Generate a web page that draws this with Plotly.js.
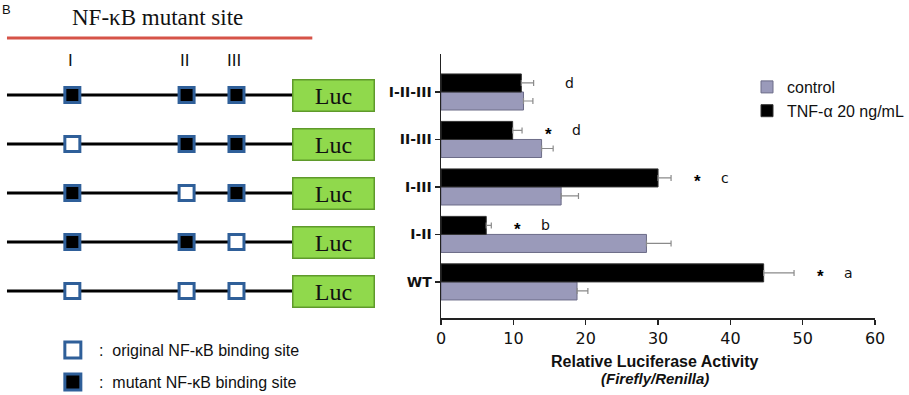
<!DOCTYPE html>
<html>
<head>
<meta charset="utf-8">
<script src="https://cdn.plot.ly/plotly-3.0.1.min.js"></script>
<style>html,body{margin:0;padding:0;background:#fff;}#chart{width:909px;height:395px;}</style>
</head>
<body>
<div id="chart"></div>
<script>
// ---------- data ----------
// constructs, listed bottom-to-top as they appear in the figure
var categories = ['WT', 'I-II', 'I-III', 'II-III', 'I-II-III'];
var controlValues = [18.8, 28.4, 16.6, 13.9, 11.4];
var controlErrors = [1.5, 3.4, 2.4, 1.6, 1.3];
var tnfValues = [44.6, 6.25, 30.0, 9.9, 11.1];
var tnfErrors = [4.2, 0.7, 1.8, 1.3, 1.7];
var significantStar = [true, true, true, true, false];
var groupLetters = ['a', 'b', 'c', 'd', 'd'];
var xTickValues = [0, 10, 20, 30, 40, 50, 60];
// NF-kB binding sites I, II, III ; 1 = mutant, 0 = original
var siteNames = ['I', 'II', 'III'];
var siteMutant = [
  [0, 0, 0],   // WT
  [1, 1, 0],   // I-II
  [1, 0, 1],   // I-III
  [0, 1, 1],   // II-III
  [1, 1, 1]    // I-II-III
];
var seriesNames = ['control', 'TNF-\u03b1 20 ng/mL'];
var xTitleLines = ['Relative Luciferase Activity', '(Firefly/Renilla)'];

// ---------- diagram geometry (layout, not data) ----------
var W = 909, H = 395;
var sitePos = [72.5, 187, 237];   // x2 units = px
var lineStart = 7, lineEnd = 293, lucCenter = 334;
function py(p) { return 1 - p / H; }
function px(p) { return p / W; }

// ---------- traces ----------
var traces = [];
traces.push({
  type: 'bar', orientation: 'h', name: seriesNames[0],
  y: categories, x: controlValues,
  marker: { color: '#9a9aba', line: { color: '#6c6c88', width: 1 } },
  error_x: { type: 'data', symmetric: false, array: controlErrors,
             arrayminus: controlErrors.map(function () { return 0; }),
             color: '#8a8a8a', thickness: 1.2, width: 3 },
  xaxis: 'x', yaxis: 'y', hoverinfo: 'skip'
});
traces.push({
  type: 'bar', orientation: 'h', name: seriesNames[1],
  y: categories, x: tnfValues,
  marker: { color: '#000000', line: { color: '#333', width: 1 } },
  error_x: { type: 'data', symmetric: false, array: tnfErrors,
             arrayminus: tnfErrors.map(function () { return 0; }),
             color: '#8a8a8a', thickness: 1.2, width: 3 },
  xaxis: 'x', yaxis: 'y', hoverinfo: 'skip'
});

// promoter lines
var lx = [], ly = [];
categories.forEach(function (c) { lx.push(lineStart, lineEnd, null); ly.push(c, c, null); });
traces.push({ type: 'scatter', mode: 'lines', x: lx, y: ly, xaxis: 'x2', yaxis: 'y2',
  line: { color: '#000', width: 3 }, showlegend: false, hoverinfo: 'skip' });

// binding sites
var sx = [], sy = [], sc = [];
categories.forEach(function (c, i) {
  siteMutant[i].forEach(function (m, j) { sx.push(sitePos[j]); sy.push(c); sc.push(m ? '#000000' : '#ffffff'); });
});
traces.push({ type: 'scatter', mode: 'markers', x: sx, y: sy, xaxis: 'x2', yaxis: 'y2',
  marker: { symbol: 'square', size: 15, color: sc, line: { color: '#2f5f99', width: 3 } },
  showlegend: false, hoverinfo: 'skip', cliponaxis: false });

// ---------- annotations ----------
var ann = [];
function txt(o) { o.showarrow = false; if (!o.xanchor) o.xanchor = 'center'; if (!o.yanchor) o.yanchor = 'middle'; ann.push(o); }
// significance marks
categories.forEach(function (c, i) {
  var tip = tnfValues[i] + tnfErrors[i];
  if (significantStar[i]) {
    txt({ xref: 'x', yref: 'y', x: tip + 3.6, y: c, yshift: 5, text: '<b>*</b>',
      font: { family: 'Liberation Sans, Arial', size: 17, color: '#000' } });
  }
  txt({ xref: 'x', yref: 'y', x: significantStar[i] ? tip + 7.5 : tip + 5, y: c, yshift: 9,
    text: groupLetters[i],
    font: { family: 'DejaVu Sans, Arial', size: 14, color: '#111' } });
  // Luc reporter boxes
  txt({ xref: 'x2', yref: 'y2', x: lucCenter, y: c, text: 'Luc',
    font: { family: 'Liberation Serif, Times New Roman', size: 24, color: '#111' },
    bgcolor: '#90d94c', bordercolor: '#5f9a2b', borderwidth: 1.5, borderpad: 2,
    width: 76, height: 26 });
});
// site numerals
siteNames.forEach(function (s, j) {
  txt({ xref: 'x2', yref: 'paper', x: sitePos[j] - 2, y: py(60), text: s,
    font: { family: 'Liberation Sans, Arial', size: 17, color: '#111' } });
});
txt({ xref: 'x2', yref: 'paper', x: 158, y: py(17), text: 'NF-\u03baB mutant site',
  font: { family: 'Liberation Serif, Times New Roman', size: 23, color: '#111' } });
txt({ xref: 'paper', yref: 'paper', x: 0, xanchor: 'left', y: 1, yanchor: 'top', text: 'B',
  font: { family: 'Liberation Sans, Arial', size: 13, color: '#111' } });
txt({ xref: 'paper', yref: 'paper', x: px(97), xanchor: 'left', y: py(350), text: ':  original NF-\u03baB binding site',
  font: { family: 'Liberation Sans, Arial', size: 16, color: '#111' } });
txt({ xref: 'paper', yref: 'paper', x: px(97), xanchor: 'left', y: py(382), text: ':  mutant NF-\u03baB binding site',
  font: { family: 'Liberation Sans, Arial', size: 16, color: '#111' } });
// x-axis title (two lines)
txt({ xref: 'paper', yref: 'paper', x: px(656), y: py(361), text: '<b>' + xTitleLines[0] + '</b>',
  font: { family: 'Liberation Sans, Arial', size: 16, color: '#111' } });
txt({ xref: 'paper', yref: 'paper', x: px(656), y: py(378), text: '<b><i>' + xTitleLines[1] + '</i></b>',
  font: { family: 'Liberation Sans, Arial', size: 15, color: '#111' } });

// ---------- shapes ----------
var shapes = [
  { type: 'line', xref: 'x2', yref: 'paper', x0: lineStart, x1: 313, y0: py(38), y1: py(38),
    line: { color: '#d65348', width: 3 } },
  { type: 'rect', xref: 'x2', yref: 'paper', xsizemode: 'pixel', ysizemode: 'pixel',
    xanchor: 73, yanchor: py(350), x0: -8, x1: 8, y0: -8, y1: 8,
    fillcolor: '#ffffff', line: { color: '#2f5f99', width: 3 } },
  { type: 'rect', xref: 'x2', yref: 'paper', xsizemode: 'pixel', ysizemode: 'pixel',
    xanchor: 73, yanchor: py(382), x0: -8, x1: 8, y0: -8, y1: 8,
    fillcolor: '#000000', line: { color: '#2f5f99', width: 3 } }
];

var layout = {
  width: W, height: H,
  margin: { l: 0, r: 0, t: 0, b: 0, pad: 0 },
  paper_bgcolor: '#ffffff', plot_bgcolor: 'rgba(0,0,0,0)',
  font: { family: 'Liberation Sans, Arial, sans-serif', color: '#111' },
  barmode: 'group', bargap: 0.24, bargroupgap: 0,
  showlegend: true,
  legend: { x: px(749), xanchor: 'left', y: py(70), yanchor: 'top', traceorder: 'normal',
    bgcolor: 'rgba(0,0,0,0)', font: { size: 16, color: '#111' }, itemwidth: 30 },
  xaxis: {
    domain: [px(442), px(877)], range: [0, 60], tickvals: xTickValues,
    ticks: 'outside', ticklen: 5, tickwidth: 1.5, tickcolor: '#222',
    showline: true, linecolor: '#222', linewidth: 1.5, showgrid: false, zeroline: false,
    tickfont: { family: 'DejaVu Sans, Arial', size: 16, color: '#111' },
    fixedrange: true
  },
  yaxis: {
    domain: [py(318), py(54)], type: 'category', categoryorder: 'array', categoryarray: categories,
    range: [-0.76, 4.8],
    ticks: 'outside', ticklen: 5, tickwidth: 1.5, tickcolor: '#222',
    showline: true, linecolor: '#222', linewidth: 1.5, showgrid: false, zeroline: false,
    tickfont: { family: 'DejaVu Sans, Arial', size: 14, color: '#111', weight: 'bold' }, fixedrange: true
  },
  xaxis2: { domain: [0, px(400)], range: [0, 400], visible: false, fixedrange: true, anchor: 'y2' },
  yaxis2: { domain: [0, 1], type: 'category', categoryorder: 'array', categoryarray: categories,
    range: [-2.1224, 5.9388], visible: false, fixedrange: true, anchor: 'x2' },
  annotations: ann,
  shapes: shapes
};

Plotly.newPlot('chart', traces, layout, { displayModeBar: false, staticPlot: true });
</script>
</body>
</html>
